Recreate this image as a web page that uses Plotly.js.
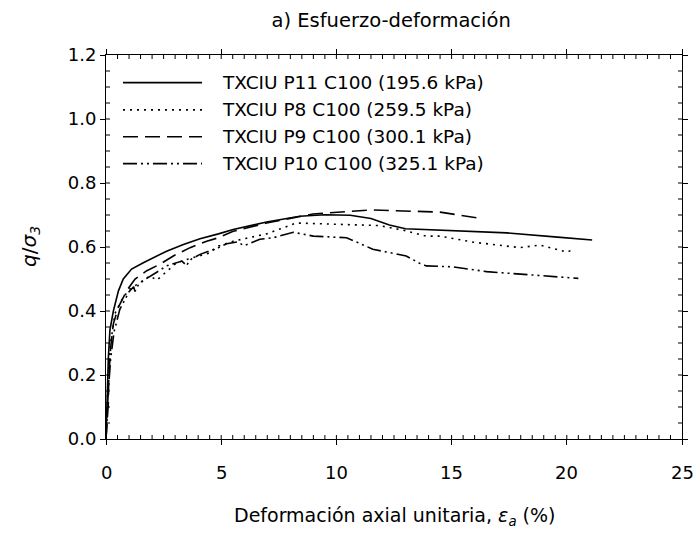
<!DOCTYPE html>
<html>
<head>
<meta charset="utf-8">
<script src="https://cdn.plot.ly/plotly-3.0.1.min.js"></script>
<style>html,body{margin:0;padding:0;background:#fff;}#chart{width:696px;height:538px;}</style>
</head>
<body>
<div id="chart"></div>
<script>
const seriesNames = ["TXCIU P11 C100 (195.6 kPa)", "TXCIU P8 C100 (259.5 kPa)", "TXCIU P9 C100 (300.1 kPa)", "TXCIU P10 C100 (325.1 kPa)"];

const p11X = [0, 0.03, 0.06, 0.1, 0.17, 0.32, 0.54, 0.75, 1.11, 1.62, 2.05, 2.63, 3.36, 4.08, 4.88, 5.52, 6.97, 8.41, 9.5, 10.6, 11.5, 12.3, 13.0, 14.5, 16.2, 17.4, 19.6, 21.1];
const p11Y = [0, 0.05, 0.15, 0.25, 0.34, 0.40, 0.463, 0.50, 0.531, 0.551, 0.567, 0.587, 0.608, 0.626, 0.641, 0.655, 0.678, 0.696, 0.701, 0.699, 0.689, 0.669, 0.657, 0.652, 0.646, 0.644, 0.631, 0.622];

const p8X = [0, 0.05, 0.1, 0.2, 0.39, 0.75, 1.04, 1.48, 1.91, 2.2, 2.49, 3.07, 3.79, 4.52, 4.88, 5.52, 6.97, 8.26, 10.44, 11.87, 13.0, 13.9, 14.5, 15.95, 17.97, 18.84, 20.0, 20.2];
const p8Y = [0, 0.1, 0.2, 0.3, 0.392, 0.443, 0.469, 0.489, 0.51, 0.496, 0.515, 0.551, 0.567, 0.582, 0.603, 0.618, 0.641, 0.675, 0.67, 0.667, 0.651, 0.634, 0.634, 0.615, 0.598, 0.606, 0.584, 0.59];

const p9X = [0, 0.05, 0.1, 0.12, 0.2, 0.32, 0.54, 0.9, 1.26, 1.77, 2.34, 2.92, 3.65, 4.37, 4.88, 5.52, 6.97, 8.98, 10.58, 11.5, 12.3, 14.5, 16.3];
const p9Y = [0, 0.05, 0.11, 0.19, 0.285, 0.36, 0.412, 0.464, 0.50, 0.526, 0.546, 0.572, 0.598, 0.618, 0.629, 0.649, 0.675, 0.703, 0.711, 0.716, 0.714, 0.709, 0.689];

const p10X = [0, 0.05, 0.1, 0.2, 0.35, 0.6, 1.0, 1.2, 1.26, 1.4, 1.62, 2.2, 2.63, 3.3, 3.5, 3.57, 3.7, 4.08, 4.88, 5.24, 5.7, 6.0, 6.68, 7.26, 8.13, 9.0, 10.44, 10.86, 11.58, 13.03, 13.64, 13.9, 15.07, 16.52, 17.97, 19.13, 20.5];
const p10Y = [0, 0.08, 0.15, 0.25, 0.335, 0.405, 0.46, 0.476, 0.461, 0.481, 0.495, 0.521, 0.541, 0.556, 0.541, 0.551, 0.562, 0.577, 0.598, 0.61, 0.616, 0.604, 0.624, 0.629, 0.646, 0.634, 0.629, 0.616, 0.593, 0.572, 0.548, 0.541, 0.538, 0.523, 0.515, 0.51, 0.502];

const xTickVals = [0, 5, 10, 15, 20, 25];
const xTickText = ["0", "5", "10", "15", "20", "25"];
const yTickVals = [0, 0.2, 0.4, 0.6, 0.8, 1.0, 1.2];
const xMinorStep = 0.5;
const yMinorStep = 0.05;
const xTitle = "Deformación axial unitaria, <i>ε<sub>a</sub></i> (%)";
const yTitle = "<i>q</i>/<i>σ<sub>3</sub></i>";
const chartTitle = "a) Esfuerzo-deformación";

const dashes = ["solid", "2px,5px", "15px,7px", "14px,4px,2px,4px,2px,4px"];
const xs = [p11X, p8X, p9X, p10X];
const ys = [p11Y, p8Y, p9Y, p10Y];
const FONT = "DejaVu Sans, Verdana, sans-serif";

const traces = xs.map((x, i) => ({
  x: x, y: ys[i], type: "scatter", mode: "lines", name: seriesNames[i],
  line: {color: "#000", width: 1.6, dash: dashes[i]},
  showlegend: false, hoverinfo: "skip"
}));

const xRange = [xTickVals[0], xTickVals[xTickVals.length - 1]];
const yRange = [yTickVals[0], yTickVals[yTickVals.length - 1]];

// manual legend (decoration in paper coordinates)
const legRowsY = [0.928, 0.857, 0.787, 0.717];
const shapes = [];
const annotations = [];
seriesNames.forEach((n, i) => {
  shapes.push({type: "line", xref: "paper", yref: "paper", x0: 0.0295, x1: 0.1667, y0: legRowsY[i], y1: legRowsY[i],
    line: {color: "#000", width: 1.6, dash: dashes[i]}});
  annotations.push({xref: "paper", yref: "paper", x: 0.198, y: legRowsY[i], xanchor: "left", yanchor: "middle",
    text: n, showarrow: false, font: {family: FONT, size: 18.5, color: "#000"}});
});

// inward minor ticks on all four sides, placed through the axis scales
const tickLine = {color: "#000", width: 1};
const nX = Math.round((xRange[1] - xRange[0]) / xMinorStep);
for (let k = 1; k < nX; k++) {
  const v = xRange[0] + k * xMinorStep;
  shapes.push({type: "line", xref: "x", yref: "paper", ysizemode: "pixel", yanchor: 0, x0: v, x1: v, y0: 0, y1: 4, line: tickLine, layer: "above"});
  shapes.push({type: "line", xref: "x", yref: "paper", ysizemode: "pixel", yanchor: 1, x0: v, x1: v, y0: 0, y1: -4, line: tickLine, layer: "above"});
}
const nY = Math.round((yRange[1] - yRange[0]) / yMinorStep);
for (let k = 1; k < nY; k++) {
  const v = yRange[0] + k * yMinorStep;
  shapes.push({type: "line", xref: "paper", yref: "y", xsizemode: "pixel", xanchor: 0, x0: 0, x1: 4, y0: v, y1: v, line: tickLine, layer: "above"});
  shapes.push({type: "line", xref: "paper", yref: "y", xsizemode: "pixel", xanchor: 1, x0: 0, x1: -4, y0: v, y1: v, line: tickLine, layer: "above"});
}

// x tick labels placed through the x scale, lower than the default position
xTickVals.forEach((v, i) => {
  annotations.push({xref: "x", yref: "paper", x: v, y: 0, xanchor: "center", yanchor: "top", yshift: -21,
    text: xTickText[i], showarrow: false, font: {family: FONT, size: 18, color: "#000"}});
});
// axis titles
annotations.push({xref: "paper", yref: "paper", x: 0.5, y: 0, xanchor: "center", yanchor: "top", yshift: -63,
  text: xTitle, showarrow: false, font: {family: FONT, size: 19, color: "#000"}});
annotations.push({xref: "paper", yref: "paper", x: 0, y: 0.5, xanchor: "center", yanchor: "middle", xshift: -76,
  textangle: -90, text: yTitle, showarrow: false, font: {family: FONT, size: 20, color: "#000"}});

const axisCommon = {
  showline: true, linecolor: "#000", linewidth: 1, mirror: "allticks",
  ticks: "outside", ticklen: 5, tickcolor: "#000", tickwidth: 1,
  showgrid: false, zeroline: false, automargin: false,
  tickfont: {family: FONT, size: 18, color: "#000"}
};

const layout = {
  width: 696, height: 538,
  margin: {l: 106, r: 14, t: 55, b: 99},
  paper_bgcolor: "#fff", plot_bgcolor: "#fff",
  font: {family: FONT, color: "#000"},
  title: {text: chartTitle, font: {family: FONT, size: 19.5, color: "#000"}, x: 0.562, xanchor: "center", y: 0.962, yanchor: "middle"},
  xaxis: Object.assign({}, axisCommon, {
    range: xRange, showticklabels: false,
    tickmode: "linear", tick0: xTickVals[0], dtick: xTickVals[1] - xTickVals[0]
  }),
  yaxis: Object.assign({}, axisCommon, {
    range: yRange,
    tickmode: "linear", tick0: yTickVals[0], dtick: yTickVals[1] - yTickVals[0], tickformat: ".1f"
  }),
  shapes: shapes,
  annotations: annotations
};

Plotly.newPlot("chart", traces, layout, {staticPlot: true, displayModeBar: false});
</script>
</body>
</html>
